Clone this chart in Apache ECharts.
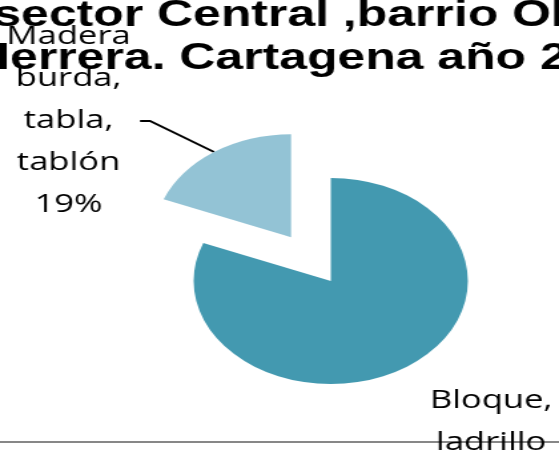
<!DOCTYPE html>
<html lang="es">
<head>
<meta charset="UTF-8">
<title>Material paredes</title>
<script src="https://cdn.jsdelivr.net/npm/echarts@6/dist/echarts.min.js"></script>
<style>
  html, body { margin: 0; padding: 0; background: #fff; overflow: hidden; }
  /* el original esta estirado en horizontal */
  #chart { width: 420px; height: 452px; transform: scaleX(1.331); transform-origin: 0 0; }
</style>
</head>
<body>
<div id="chart"></div>
<script>
  var categories = ['Bloque, ladrillo', 'Madera burda, tabla, tablón'];
  var values = [81, 19];
  var colors = ['#4399b0', '#93c3d5'];
  var titleLines = ['sector Central ,barrio Olaya', 'Herrera. Cartagena año 2'];

  // centro de cada bloque de etiqueta
  var labelPos = [[369, 443], [51.5, 121]];

  var myChart = echarts.init(document.getElementById('chart'));

  var center = [248.5, 281];
  var radius = 103;
  var explode = 53;

  // el sector de madera va separado: desplazamiento segun su angulo medio
  var total = values[0] + values[1];
  var midDeg = (values[0] + values[1] / 2) / total * 360;
  var midRad = midDeg * Math.PI / 180;
  var center2 = [center[0] + explode * Math.sin(midRad), center[1] - explode * Math.cos(midRad)];

  var titleStyle = {
    fontFamily: 'Liberation Sans',
    fontWeight: 'bold',
    fontSize: 37.5,
    color: '#000'
  };

  function pieSeries(showIndex, c) {
    return {
      type: 'pie',
      silent: true,
      center: c,
      radius: radius,
      startAngle: 90,
      avoidLabelOverlap: false,
      label: {
        show: true,
        position: 'outside',
        color: '#000',
        fontFamily: 'Open Sans',
        fontSize: 26,
        lineHeight: 42,
        padding: [0, 7, 0, 7],
        formatter: function (p) {
          return p.name.split(' ').join('\n') + '\n' + Math.round(p.percent) + '%';
        }
      },
      labelLine: {
        show: true,
        length2: 7.5,
        lineStyle: { color: '#000', width: 2 }
      },
      labelLayout: function (p) {
        var pos = labelPos[p.dataIndex];
        return { x: pos[0], y: pos[1], align: 'center', verticalAlign: 'middle' };
      },
      data: categories.map(function (name, i) {
        var on = i === showIndex;
        return {
          name: name,
          value: values[i],
          itemStyle: { color: colors[i], opacity: on ? 1 : 0 },
          label: { show: on },
          labelLine: { show: on && i === 1 }
        };
      })
    };
  }

  var option = {
    animation: false,
    title: [
      { text: titleLines[0], left: -5, top: -3, padding: 0, textStyle: titleStyle },
      { text: titleLines[1], left: -19.5, top: 40, padding: 0, textStyle: titleStyle }
    ],
    graphic: [{
      type: 'line',
      silent: true,
      shape: { x1: 0, y1: 442, x2: 420, y2: 442 },
      style: { stroke: '#878787', lineWidth: 2 }
    }],
    series: [pieSeries(0, center), pieSeries(1, center2)]
  };

  myChart.setOption(option);
</script>
</body>
</html>
